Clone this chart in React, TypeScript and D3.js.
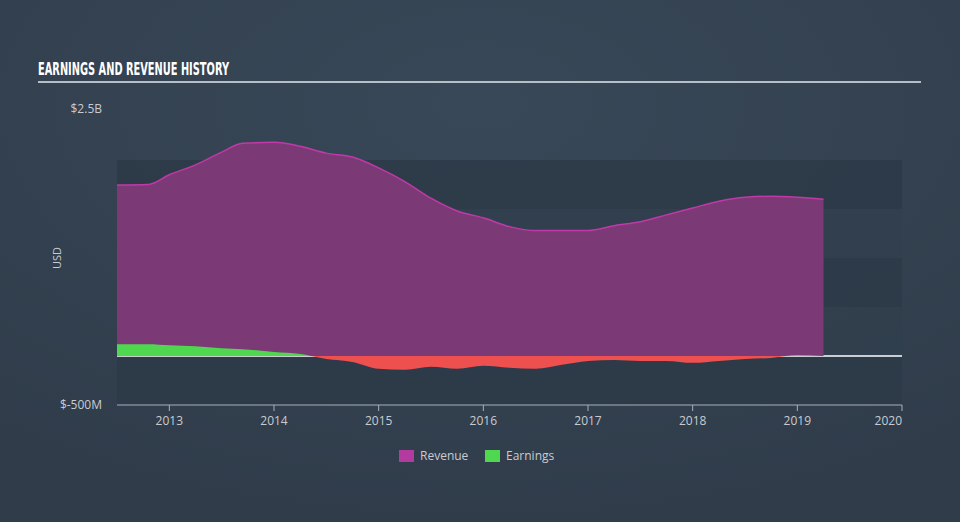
import * as d3 from "d3"

const W = 960
const H = 522

// sample dates (decimal years) and values in USD billions
const dates = [
  2012.5, 2012.8, 2013.0, 2013.25, 2013.5, 2013.7, 2014.0, 2014.25, 2014.5, 2014.75,
  2015.0, 2015.25, 2015.5, 2015.75, 2016.0, 2016.25, 2016.5, 2016.75, 2017.0, 2017.25,
  2017.5, 2017.75, 2018.0, 2018.25, 2018.5, 2018.75, 2019.0, 2019.25,
]
const revenue = [
  1.745, 1.75, 1.85, 1.95, 2.08, 2.17, 2.18, 2.14, 2.07, 2.03,
  1.92, 1.78, 1.61, 1.48, 1.41, 1.32, 1.28, 1.28, 1.28, 1.33,
  1.37, 1.44, 1.51, 1.58, 1.62, 1.63, 1.62, 1.6,
]
const earnings = [
  0.12, 0.12, 0.11, 0.1, 0.08, 0.07, 0.04, 0.02, -0.03, -0.06,
  -0.13, -0.14, -0.11, -0.13, -0.1, -0.12, -0.13, -0.09, -0.05, -0.04,
  -0.05, -0.05, -0.07, -0.05, -0.03, -0.02, 0.01, 0.0,
]

const xTicks = [2013, 2014, 2015, 2016, 2017, 2018, 2019, 2020]
const darkBands = [2.0, 1.0, 0.0]
const lightBands = [1.5, 0.5]
const legend = [
  { label: "Revenue", color: "#b33ba0" },
  { label: "Earnings", color: "#4fd74f" },
]

const FONT = "'Open Sans', Lato, sans-serif"

export default function App() {
  const x = d3.scaleLinear().domain([2012.5, 2020]).range([117, 902])
  const y = d3.scaleLinear().domain([-0.5, 2.5]).range([405, 111])

  const rev = dates.map((d, i) => ({ d, v: revenue[i] }))
  const earn = dates.map((d, i) => ({ d, v: earnings[i] }))

  const revArea = d3
    .area<{ d: number; v: number }>()
    .x((p) => x(p.d))
    .y0(y(0))
    .y1((p) => y(p.v))
    .curve(d3.curveMonotoneX)
  const revLine = d3
    .line<{ d: number; v: number }>()
    .x((p) => x(p.d))
    .y((p) => y(p.v))
    .curve(d3.curveMonotoneX)

  const earnArea = d3
    .area<{ d: number; v: number }>()
    .x((p) => x(p.d))
    .y0(y(0))
    .y1((p) => y(p.v))
    .curve(d3.curveMonotoneX)

  const x0 = x.range()[0]
  const x1 = x.range()[1]

  return (
    <svg width={W} height={H} style={{ position: "absolute", left: 0, top: 0 }}>
      <defs>
        <radialGradient id="bg" cx="50%" cy="20%" r="80%">
          <stop offset="0%" stopColor="#384858" />
          <stop offset="100%" stopColor="#303c4a" />
        </radialGradient>
        <clipPath id="above">
          <rect x={0} y={0} width={W} height={y(0)} />
        </clipPath>
        <clipPath id="below">
          <rect x={0} y={y(0)} width={W} height={H} />
        </clipPath>
      </defs>
      <rect width={W} height={H} fill="url(#bg)" />

      <text
        x={38}
        y={75}
        fill="#ffffff"
        fontFamily="'Liberation Sans Narrow', 'DejaVu Sans Condensed', sans-serif"
        fontWeight="bold"
        fontSize={18}
        textLength={191}
        lengthAdjust="spacingAndGlyphs"
      >
        EARNINGS AND REVENUE HISTORY
      </text>
      <line x1={38} x2={921} y1={82} y2={82} stroke="#b8bec6" strokeWidth={2} />

      {/* alternating bands */}
      {darkBands.map((b) => (
        <rect key={b} x={x0} y={y(b)} width={x1 - x0} height={y(b - 0.5) - y(b)} fill="#2d3a48" opacity={0.85} />
      ))}
      {lightBands.map((b) => (
        <rect key={b} x={x0} y={y(b)} width={x1 - x0} height={y(b - 0.5) - y(b)} fill="#313f4e" opacity={0.9} />
      ))}

      <line x1={x0} x2={x1} y1={y(0)} y2={y(0)} stroke="#ffffff" strokeWidth={1.5} />

      <path d={revArea(rev) ?? ""} fill="#7b3a75" />
      <path d={revLine(rev) ?? ""} fill="none" stroke="#c039a8" strokeWidth={1.5} />

      <path d={earnArea(earn) ?? ""} fill="#4fd74f" clipPath="url(#above)" />
      <path d={earnArea(earn) ?? ""} fill="#ee5050" clipPath="url(#below)" />

      {/* y labels */}
      <text x={102} y={y(2.5) + 2} textAnchor="end" fill="#c8ccd2" fontFamily={FONT} fontSize={12}>
        $2.5B
      </text>
      <text x={102} y={y(-0.5) + 4} textAnchor="end" fill="#c8ccd2" fontFamily={FONT} fontSize={12}>
        $-500M
      </text>
      <text
        transform={`translate(61, ${y(1)}) rotate(-90)`}
        textAnchor="middle"
        fill="#c8ccd2"
        fontFamily={FONT}
        fontSize={11}
      >
        USD
      </text>

      {/* x axis */}
      <line x1={x0} x2={x1} y1={y(-0.5)} y2={y(-0.5)} stroke="#a8b0ba" strokeWidth={1} />
      {xTicks.map((t) => (
        <g key={t}>
          <line x1={x(t)} x2={x(t)} y1={y(-0.5)} y2={y(-0.5) + 6} stroke="#a8b0ba" />
          <text x={x(t)} y={425} textAnchor={t === 2020 ? "end" : "middle"} fill="#c8ccd2" fontFamily={FONT} fontSize={12}>
            {t}
          </text>
        </g>
      ))}

      {/* legend */}
      {legend.map((l, i) => {
        const lx = 399 + i * 86
        return (
          <g key={l.label}>
            <rect x={lx} y={450} width={15} height={12} fill={l.color} />
            <text x={lx + 21} y={460} fill="#c8ccd2" fontFamily={FONT} fontSize={12}>
              {l.label}
            </text>
          </g>
        )
      })}
    </svg>
  )
}
